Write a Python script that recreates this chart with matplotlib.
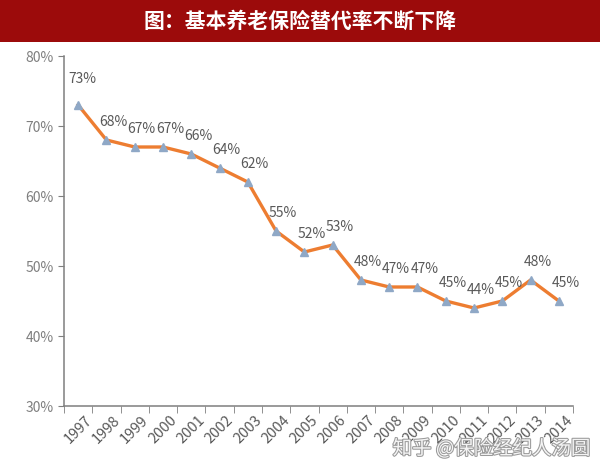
import matplotlib
matplotlib.use("Agg")
import matplotlib.pyplot as plt
import matplotlib.patheffects as pe

plt.rcParams['font.family'] = ['Noto Sans CJK SC', 'DejaVu Sans']

# data
years = ['1997', '1998', '1999', '2000', '2001', '2002', '2003', '2004', '2005',
         '2006', '2007', '2008', '2009', '2010', '2011', '2012', '2013', '2014']
rates = [73, 68, 67, 67, 66, 64, 62, 55, 52, 53, 48, 47, 47, 45, 44, 45, 48, 45]
yticks = [30, 40, 50, 60, 70, 80]
title = '图：基本养老保险替代率不断下降'

fig = plt.figure(figsize=(6, 4.7), dpi=100)
fig.patch.set_facecolor('white')

# red title band
band = fig.add_axes([0, 1 - 42 / 470, 1, 42 / 470])
band.set_facecolor('#9c0b0b')
band.set_xticks([])
band.set_yticks([])
for s in band.spines.values():
    s.set_visible(False)
band.text(0.5, 0.5, title, color='white', fontsize=15, fontweight='bold',
          ha='center', va='center')

ax = fig.add_axes([64 / 600, 64 / 470, 509 / 600, 350 / 470])
x = list(range(len(years)))
ax.plot(x, rates, color='#ed7d31', lw=2.4, marker='^', ms=5.5,
        markerfacecolor='#8fa8c6', markeredgecolor='#8fa8c6', zorder=3)

for i, v in enumerate(rates):
    dx = 3 if i == 0 else 5
    dy = 14 if i == 0 else 8
    ax.annotate(f'{v}%', (i, v), xytext=(dx, dy), textcoords='offset points',
                ha='center', va='bottom', fontsize=10, color='#595959')

ax.set_xlim(-0.5, len(years) - 0.5)
ax.set_ylim(30, 80)
ax.set_yticks(yticks)
ax.set_yticklabels([f'{t}%' for t in yticks], color='#7f7f7f', fontsize=10)
ax.set_xticks(x)
ax.set_xticklabels(years, rotation=45, color='#595959', fontsize=10.5,
                   ha='center', va='top')
ax.tick_params(axis='x', length=0, pad=5)
ax.set_xticks([i - 0.5 for i in range(len(years) + 1)], minor=True)
ax.tick_params(axis='x', which='minor', length=5, color='#7f7f7f')
ax.tick_params(axis='y', length=4, color='#7f7f7f')
for s in ['top', 'right']:
    ax.spines[s].set_visible(False)
for s in ['left', 'bottom']:
    ax.spines[s].set_color('#7f7f7f')
    ax.spines[s].set_linewidth(1.1)

fig.text(0.985, 0.045, '知乎 @保险经纪人汤圆', ha='right', va='center',
         fontsize=14, color='#f4f4f4',
         path_effects=[pe.withStroke(linewidth=1.5, foreground='#9a9a9a')])

fig.savefig('out.png', dpi=100)
